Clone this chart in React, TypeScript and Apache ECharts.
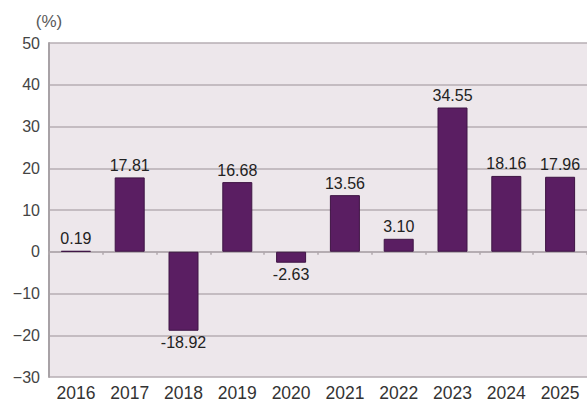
import React, { useEffect, useRef } from "react";
import * as echarts from "echarts";

const categories = ["2016", "2017", "2018", "2019", "2020", "2021", "2022", "2023", "2024", "2025"];
const values = [0.19, 17.81, -18.92, 16.68, -2.63, 13.56, 3.1, 34.55, 18.16, 17.96];
const yTicks = { min: -30, max: 50, interval: 10 };
const unitLabel = "(%)";

export default function App() {
  const ref = useRef<HTMLDivElement>(null);
  useEffect(() => {
    document.body.style.margin = "0";
    const chart = echarts.init(ref.current!, undefined, { renderer: "svg" });
    const font = "'Liberation Sans', Arial, sans-serif";
    chart.setOption({
      animation: false,
      backgroundColor: "#ffffff",
      grid: {
        left: 49,
        top: 43,
        width: 540,
        height: 334,
        show: true,
        backgroundColor: "#ede7eb",
        borderWidth: 0,
      },
      xAxis: [
        {
          type: "category",
          data: categories,
          position: "bottom",
          axisLine: { show: false, onZero: false },
          axisTick: { show: false },
          axisLabel: { fontSize: 17.5, color: "#333", margin: 7, fontFamily: font },
        },
        {
          type: "category",
          data: categories,
          position: "bottom",
          axisLine: { show: true, onZero: true, lineStyle: { color: "#b0a8ad", width: 1.5 } },
          axisTick: { show: true, length: 3, lineStyle: { color: "#b0a8ad", width: 1.5 } },
          axisLabel: { show: false },
        },
      ],
      yAxis: {
        type: "value",
        min: yTicks.min,
        max: yTicks.max,
        interval: yTicks.interval,
        name: unitLabel,
        nameLocation: "end",
        nameGap: 13,
        nameTextStyle: { fontSize: 17, color: "#5a5a5a", fontFamily: font, align: "center" },
        axisLine: { show: true, lineStyle: { color: "#a8a2a6", width: 2 } },
        axisTick: { show: false },
        splitLine: { show: true, lineStyle: { color: "#b6aeb3", width: 1.5 } },
        axisLabel: {
          fontSize: 16,
          color: "#444",
          margin: 9,
          fontFamily: font,
          formatter: (v: number) => String(v).replace("-", "\u2212"),
        },
      },
      series: [
        {
          type: "bar",
          xAxisIndex: 0,
          barWidth: 30,
          itemStyle: { color: "#5a1e62", borderColor: "#3e1444", borderWidth: 1 },
          data: values.map((v) => ({
            value: v,
            label: {
              show: true,
              position: v >= 0 ? "top" : "bottom",
              distance: 4,
              formatter: v.toFixed(2),
              fontSize: 16,
              color: "#222",
              fontFamily: font,
            },
          })),
        },
      ],
    });
    return () => chart.dispose();
  }, []);
  return <div ref={ref} style={{ width: 587, height: 409 }} />;
}
